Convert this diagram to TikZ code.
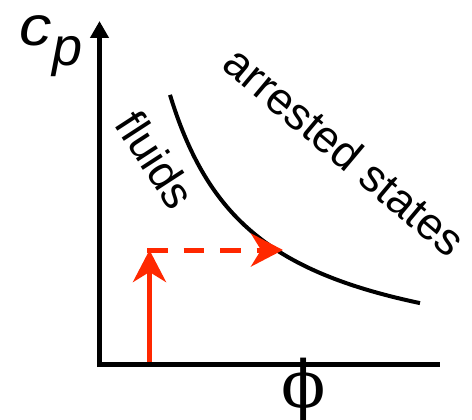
\documentclass[tikz,border=0pt]{standalone}
\usepackage{fontspec}
\setmainfont{Liberation Sans}
\newfontfamily\serifgreek{DejaVu Serif}
\usetikzlibrary{arrows.meta}
\definecolor{arrowred}{RGB}{255,40,0}
\begin{document}
\begin{tikzpicture}[x=1pt,y=-1pt,
  axis/.style={line width=5pt,black},
  redarrow/.style={line width=5pt,arrowred,-{Stealth[length=32pt,width=33pt,inset=10pt]}},
  curveline/.style={line width=4pt,line cap=butt},
  lbl/.style={inner sep=0pt,font=\fontsize{45}{45}\selectfont}]
\useasboundingbox (0,0) rectangle (472,420);
% axes
\coordinate (ybot) at (99.5,367);
\coordinate (ytop) at (99.5,21);
\coordinate (xstart) at (97,364.5);
\coordinate (xend) at (440,364.5);
\draw[axis,-{Triangle[length=17pt,width=18pt]}] (ybot) -- (ytop);
\draw[axis] (xstart) -- (xend);
% boundary curve
\coordinate (hit) at (283,250);
\draw[curveline] plot[domain=170:420,samples=80,smooth] (\x,{373.9-237.17/((\x-85)/100)});
% red arrows
\coordinate (foot) at (149.5,362);
\coordinate (corner) at (149.5,250);
\draw[redarrow] (foot) -- (corner);
\draw[redarrow,dash pattern=on 20.5pt off 16pt] (147,250) -- (hit);
% labels
\node[lbl,rotate=-57] (fluids) at (156,160) {fluids};
\node[lbl,rotate=-40] (arrested) at (345,151) {arrested states};
\node[inner sep=0pt,anchor=base west,font=\fontsize{54}{54}\selectfont\itshape] (cp) at (19,46) {\scalebox{1.2}[1.03]{c}\hspace{1pt}\raisebox{-20pt}{p}};
\node[inner sep=0pt,anchor=base,font=\serifgreek\fontsize{65}{65}\selectfont] (phi) at (303.5,407) {ϕ};
\end{tikzpicture}
\end{document}
